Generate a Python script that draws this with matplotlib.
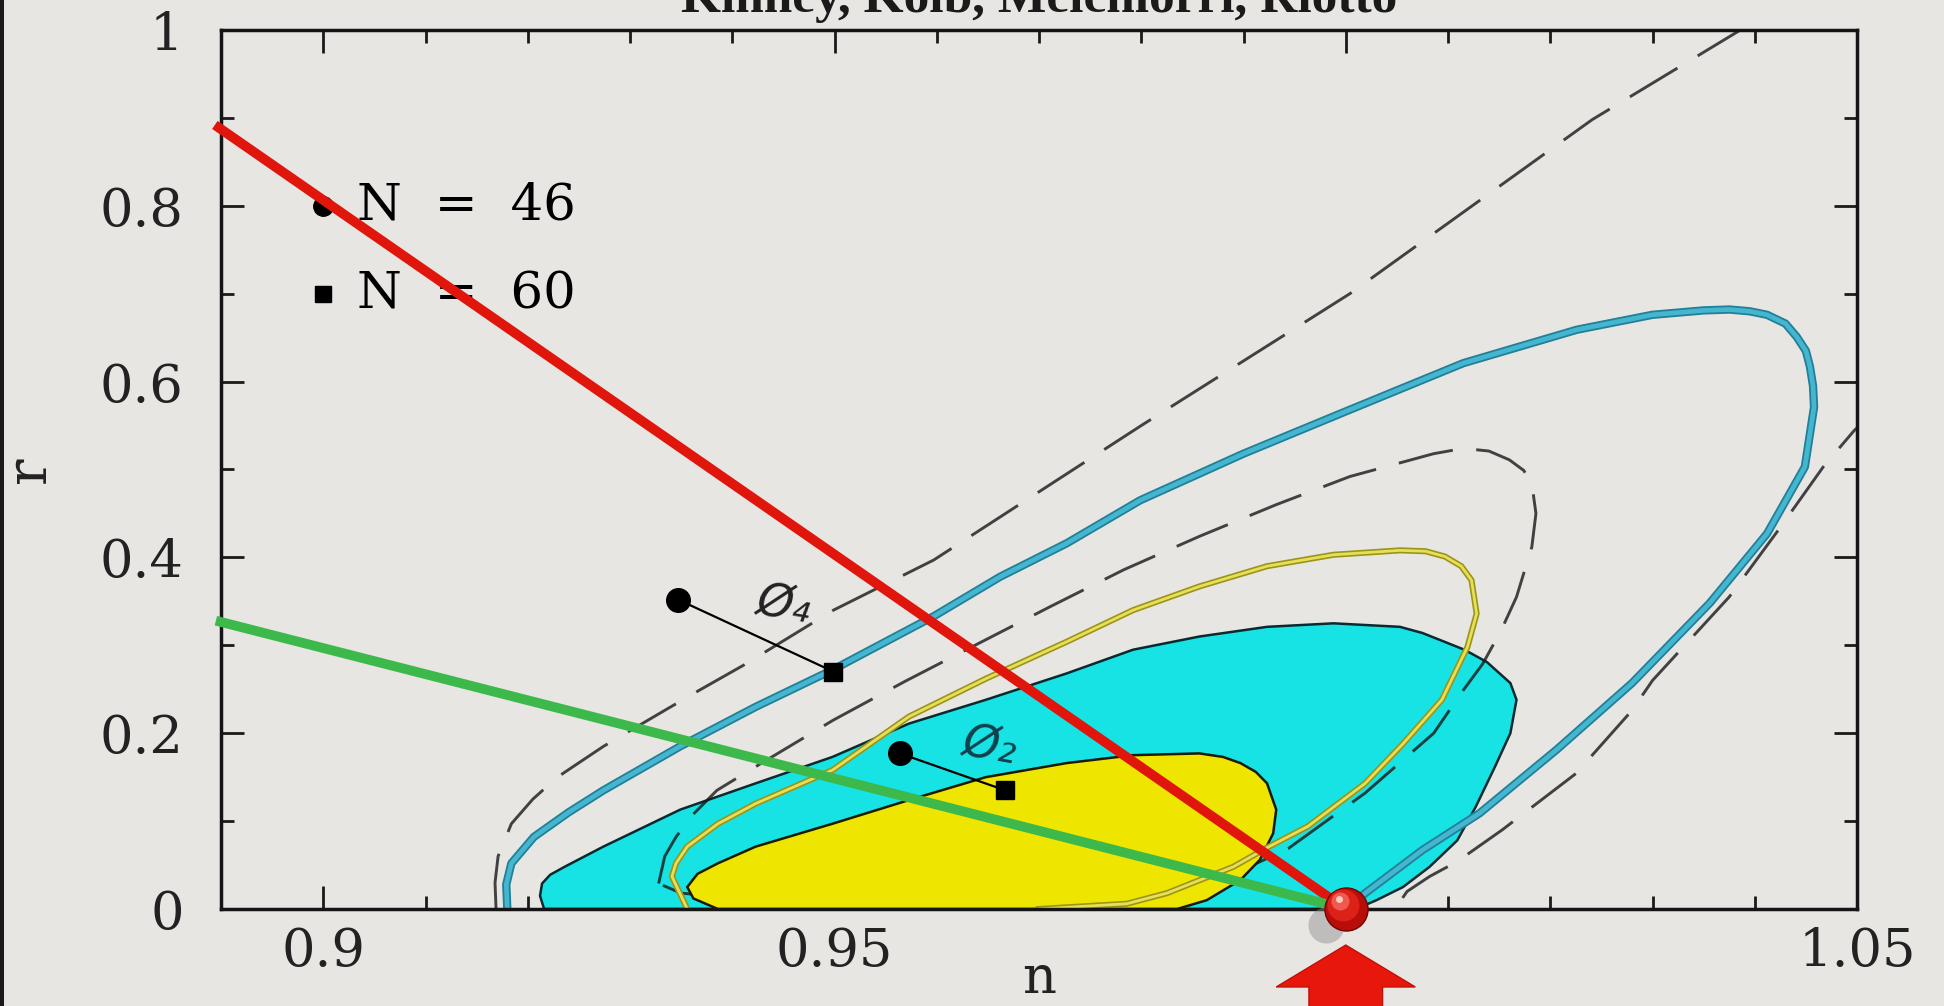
import matplotlib
matplotlib.use("Agg")
import matplotlib.pyplot as plt
from matplotlib import transforms
from matplotlib.patches import Polygon, Rectangle
from matplotlib.ticker import FixedLocator, FixedFormatter, MultipleLocator

plt.rcParams['font.family'] = ['DejaVu Serif']
plt.rcParams['lines.scale_dashes'] = False

# outer dashed contour, upper-left branch (leaves through the top edge)
a1_n = [0.9169, 0.9168, 0.9171, 0.9184, 0.9205, 0.9229, 0.9274, 0.9334, 0.9368,
        0.9412, 0.9499, 0.9597, 0.9800, 1.0004, 1.0241, 1.0386, 1.0420]
a1_r = [0.000, 0.030, 0.060, 0.097, 0.125, 0.150, 0.185, 0.226, 0.249,
        0.278, 0.340, 0.397, 0.550, 0.700, 0.898, 1.000, 1.025]
# outer dashed contour, right branch (comes in through the right edge)
a2_n = [1.0520, 1.0497, 1.0467, 1.0423, 1.0375, 1.0300, 1.0280, 1.0225, 1.0153,
        1.0109, 1.0082, 1.0060, 1.0048]
a2_r = [0.570, 0.544, 0.503, 0.431, 0.355, 0.260, 0.226, 0.154, 0.090,
        0.054, 0.037, 0.020, 0.000]

# inner dashed contour (closed)
b_n = [0.9328, 0.9334, 0.9345, 0.9362, 0.9385, 0.9423, 0.9499, 0.9569, 0.9629,
       0.9711, 0.9783, 0.9857, 0.9932, 1.0004, 1.0086, 1.0115, 1.0140, 1.0160,
       1.0174, 1.0182, 1.0186, 1.0182, 1.0167, 1.0152, 1.0134, 1.0115, 1.0086,
       1.0019, 0.9944, 0.9900, 0.9800, 0.9650, 0.9500, 0.9400, 0.9350, 0.9328]
b_r = [0.029, 0.060, 0.082, 0.108, 0.135, 0.162, 0.215, 0.259, 0.295,
       0.344, 0.386, 0.424, 0.460, 0.492, 0.518, 0.524, 0.521, 0.511,
       0.499, 0.484, 0.450, 0.412, 0.355, 0.317, 0.279, 0.249, 0.200,
       0.132, 0.069, 0.045, 0.025, 0.015, 0.012, 0.013, 0.018, 0.029]

# big teal contour
c_n = [0.9180, 0.9179, 0.9184, 0.9206, 0.9240, 0.9274, 0.9349, 0.9423, 0.9498,
       0.9597, 0.9662, 0.9727, 0.9799, 0.9900, 1.0004, 1.0115, 1.0226, 1.0300,
       1.0350, 1.0375, 1.0395, 1.0412, 1.0430, 1.0441, 1.0450, 1.0454, 1.0457,
       1.0458, 1.0449, 1.0412, 1.0356, 1.0280, 1.0206, 1.0131, 1.0075, 1.0019,
       1.0000]
c_r = [0.000, 0.028, 0.052, 0.082, 0.110, 0.135, 0.185, 0.230, 0.272,
       0.333, 0.378, 0.416, 0.465, 0.518, 0.568, 0.621, 0.659, 0.676,
       0.681, 0.682, 0.680, 0.676, 0.666, 0.651, 0.635, 0.617, 0.595,
       0.571, 0.503, 0.427, 0.348, 0.257, 0.181, 0.109, 0.067, 0.018,
       0.000]

# filled cyan region
d_n = [0.9216, 0.9212, 0.9214, 0.9222, 0.9236, 0.9274, 0.9349, 0.9423, 0.9498,
       0.9573, 0.9648, 0.9727, 0.9792, 0.9857, 0.9923, 0.9988, 1.0053, 1.0075,
       1.0116, 1.0138, 1.0161, 1.0167, 1.0161, 1.0146, 1.0127, 1.0109, 1.0082,
       1.0056, 1.0030, 1.0010]
d_r = [0.000, 0.015, 0.029, 0.039, 0.048, 0.071, 0.113, 0.143, 0.173,
       0.211, 0.238, 0.268, 0.295, 0.310, 0.321, 0.325, 0.321, 0.314,
       0.295, 0.281, 0.257, 0.238, 0.200, 0.162, 0.116, 0.078, 0.048,
       0.025, 0.010, 0.000]

# yellow contour line
e_n = [0.9356, 0.9341, 0.9345, 0.9356, 0.9386, 0.9423, 0.9498, 0.9573, 0.9648,
       0.9727, 0.9792, 0.9857, 0.9923, 0.9988, 1.0053, 1.0078, 1.0097, 1.0113,
       1.0123, 1.0128, 1.0119, 1.0094, 1.0056, 1.0019, 0.9963, 0.9925, 0.9890,
       0.9825, 0.9786, 0.9700]
e_r = [0.000, 0.037, 0.052, 0.071, 0.097, 0.120, 0.158, 0.219, 0.262,
       0.304, 0.340, 0.367, 0.390, 0.403, 0.408, 0.407, 0.401, 0.390,
       0.374, 0.336, 0.298, 0.238, 0.188, 0.143, 0.094, 0.071, 0.048,
       0.018, 0.006, 0.000]

# filled yellow region
f_n = [0.9386, 0.9362, 0.9356, 0.9366, 0.9386, 0.9423, 0.9498, 0.9573, 0.9648,
       0.9727, 0.9792, 0.9857, 0.9880, 0.9897, 0.9912, 0.9923, 0.9932, 0.9929,
       0.9916, 0.9897, 0.9864, 0.9835]
f_r = [0.000, 0.012, 0.025, 0.040, 0.052, 0.071, 0.097, 0.124, 0.150,
       0.166, 0.175, 0.177, 0.173, 0.166, 0.156, 0.143, 0.113, 0.086,
       0.056, 0.033, 0.010, 0.000]

# model predictions (N = 46 circle, N = 60 square)
phi4_n = [0.9347, 0.9499]
phi4_r = [0.352, 0.270]
phi2_n = [0.9564, 0.9667]
phi2_r = [0.177, 0.135]

# straight lines through the marked point
mark_n, mark_r = 1.0, 0.0
red_n = [0.8894, mark_n]
red_r = [0.892, mark_r]
green_n = [0.8895, mark_n]
green_r = [0.328, mark_r]

xticks = [0.9, 0.95, 1.0, 1.05]
xticklabels = ['0.9', '0.95', '', '1.05']
yticks = [0, 0.2, 0.4, 0.6, 0.8, 1.0]
yticklabels = ['0', '0.2', '0.4', '0.6', '0.8', '1']

BG = '#e8e6e3'
CYAN = '#17e2e4'
YELLOW = '#eee600'
RED = '#e0150c'
GREEN = '#3cb94a'

fig = plt.figure(figsize=(19.44, 10.06), dpi=100, facecolor=BG)
ax = fig.add_axes([221 / 1944, 97 / 1006, 1636 / 1944, 879 / 1006])
ax.set_facecolor(BG)
ax.set_xlim(0.89, 1.05)
ax.set_ylim(0, 1)

# filled regions and contours
ax.fill(d_n, d_r, facecolor=CYAN, edgecolor='#0b2a30', lw=1.8, zorder=2)
dash_kw = dict(color='#181818', alpha=0.8, lw=2.1, dashes=(40, 17), zorder=3,
               solid_joinstyle='round')
ax.plot(a1_n, a1_r, **dash_kw)
ax.plot(a2_n, a2_r, **dash_kw)
ax.plot(b_n, b_r, **dash_kw)
ax.plot(c_n, c_r, color='#217f97', lw=6.0, zorder=4, solid_joinstyle='round')
ax.plot(c_n, c_r, color='#44b6d0', lw=3.4, zorder=4, solid_joinstyle='round')
ax.fill(f_n, f_r, facecolor=YELLOW, edgecolor='#1a1a08', lw=1.8, zorder=5)
ax.plot(e_n, e_r, color='#9c9418', lw=4.4, zorder=6, solid_joinstyle='round')
ax.plot(e_n, e_r, color='#e6df5a', lw=2.0, zorder=6, solid_joinstyle='round')

# phi^4 and phi^2 predictions
for pn, pr in [(phi4_n, phi4_r), (phi2_n, phi2_r)]:
    ax.plot(pn, pr, color='k', lw=1.6, zorder=7)
    ax.plot(pn[0], pr[0], 'o', ms=17, color='k', zorder=7)
    ax.plot(pn[1], pr[1], 's', ms=13, color='k', zorder=7)
ax.text(0.9450, 0.346, 'Ø₄', fontsize=33, family='DejaVu Sans', style='italic',
        rotation=-10, ha='center', va='center', color='#222222', zorder=7)
ax.text(0.9652, 0.185, 'Ø₂', fontsize=33, family='DejaVu Sans', style='italic',
        rotation=-10, ha='center', va='center', color='#10404c', zorder=7)

# key
ax.plot(0.9, 0.80, 'o', ms=14, color='k', zorder=7)
ax.plot(0.9, 0.70, 's', ms=11, color='k', zorder=7)
ax.text(0.9033, 0.784, 'N  =  46', fontsize=37, va='baseline', zorder=7)
ax.text(0.9033, 0.683, 'N  =  60', fontsize=37, va='baseline', zorder=7)

# red and green lines
ax.plot(red_n, red_r, color=RED, lw=7, solid_capstyle='butt', zorder=8, clip_on=False)
ax.plot(green_n, green_r, color=GREEN, lw=7, solid_capstyle='butt', zorder=8, clip_on=False)

# shaded ball at the marked point
def shifted(dx, dy):
    return transforms.offset_copy(ax.transData, fig=fig, x=dx, y=dy, units='dots')

ax.plot(mark_n, mark_r, 'o', ms=26, color='#8c8c8c', alpha=0.45, mew=0,
        transform=shifted(-20, -16), zorder=9, clip_on=False)
ax.plot(mark_n, mark_r, 'o', ms=31, color='#b80d08', mec='#6e0604', mew=1,
        zorder=10, clip_on=False)
ax.plot(mark_n, mark_r, 'o', ms=23, color='#dc2218', mew=0,
        transform=shifted(-3, 4), zorder=10, clip_on=False)
ax.plot(mark_n, mark_r, 'o', ms=13, color='#ee5a4e', mew=0,
        transform=shifted(-6, 8), zorder=10, clip_on=False)
ax.plot(mark_n, mark_r, 'o', ms=5, color='#ffc8c0', mew=0,
        transform=shifted(-7, 10), zorder=10, clip_on=False)

# arrow pointing up at the marked point
head_w, shaft_w = 0.0068, 0.0036
tip_r, base_r, end_r = -0.041, -0.0887, -0.14
arrow = Polygon([(mark_n, tip_r), (mark_n + head_w, base_r), (mark_n + shaft_w, base_r),
                 (mark_n + shaft_w, end_r), (mark_n - shaft_w, end_r),
                 (mark_n - shaft_w, base_r), (mark_n - head_w, base_r)],
                closed=True, facecolor='#e8170c', edgecolor='#c01008', lw=1,
                zorder=10, clip_on=False)
ax.add_patch(arrow)

# axes styling
ax.xaxis.set_major_locator(FixedLocator(xticks))
ax.xaxis.set_major_formatter(FixedFormatter(xticklabels))
ax.xaxis.set_minor_locator(MultipleLocator(0.01))
ax.yaxis.set_major_locator(FixedLocator(yticks))
ax.yaxis.set_major_formatter(FixedFormatter(yticklabels))
ax.yaxis.set_minor_locator(MultipleLocator(0.1))
ax.tick_params(which='both', direction='in', top=True, right=True, width=2,
               color='#1a1a1a', labelsize=38, labelcolor='#222222')
ax.tick_params(which='major', length=16.5)
ax.tick_params(which='minor', length=9.5)
ax.tick_params(axis='x', which='major', pad=12)
ax.tick_params(axis='y', which='major', pad=27)
for sp in ax.spines.values():
    sp.set_linewidth(2.5)
    sp.set_color('#151515')
    sp.set_zorder(6)

ax.set_xlabel('n', fontsize=38, color='#222222')
ax.xaxis.set_label_coords(0.5, -0.096)
ax.xaxis.label.set_va('baseline')
ax.set_ylabel('r', fontsize=40, color='#222222')
ax.yaxis.set_label_coords(-0.1167, 0.5)
ax.yaxis.label.set_va('center')

fig.text(1039 / 1944, 1 - 12 / 1006, 'Kinney, Kolb, Melchiorri, Riotto',
         ha='center', va='baseline', fontsize=37, fontweight='bold',
         family='Liberation Serif', color='#1a1a1a')

# dark strip at the left edge of the slide
fig.patches.append(Rectangle((0, 0), 4 / 1944, 1, transform=fig.transFigure,
                             facecolor='#1a1a1a', edgecolor='none'))

fig.savefig('out.png', dpi=100, facecolor=BG)
